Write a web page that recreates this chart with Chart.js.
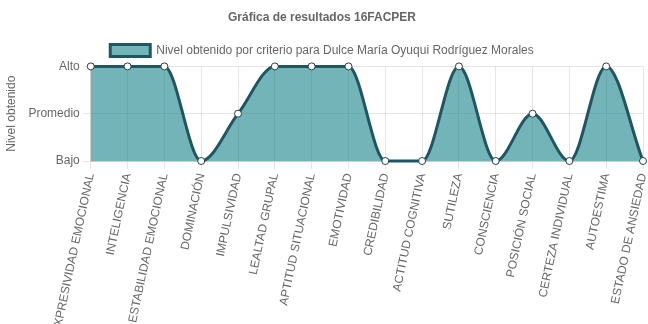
<!DOCTYPE html>
<html>
<head>
<meta charset="utf-8">
<script src="https://cdn.jsdelivr.net/npm/chart.js@4"></script>
<style>
  body { margin: 0; background: #fff; }
  #wrap { width: 648px; height: 324px; }
</style>
</head>
<body>
<div id="wrap"><canvas id="resultChart"></canvas></div>
<script>
// factores evaluados
const criterios = [
  'EXPRESIVIDAD EMOCIONAL', 'INTELIGENCIA', 'ESTABILIDAD EMOCIONAL', 'DOMINACIÓN',
  'IMPULSIVIDAD', 'LEALTAD GRUPAL', 'APTITUD SITUACIONAL', 'EMOTIVIDAD',
  'CREDIBILIDAD', 'ACTITUD COGNITIVA', 'SUTILEZA', 'CONSCIENCIA',
  'POSICIÓN SOCIAL', 'CERTEZA INDIVIDUAL', 'AUTOESTIMA', 'ESTADO DE ANSIEDAD'
];
// niveles del eje y, de abajo hacia arriba
const niveles = ['Bajo', 'Promedio', 'Alto'];
const resultados = [
  'Alto', 'Alto', 'Alto', 'Bajo',
  'Promedio', 'Alto', 'Alto', 'Alto',
  'Bajo', 'Bajo', 'Alto', 'Bajo',
  'Promedio', 'Bajo', 'Alto', 'Bajo'
];

const fuente = "'Liberation Sans', Arial, sans-serif";
Chart.defaults.font.family = fuente;
Chart.defaults.font.size = 12;
Chart.defaults.color = '#666';

new Chart(document.getElementById('resultChart'), {
  type: 'line',
  data: {
    labels: criterios,
    datasets: [{
      label: 'Nivel obtenido por criterio para Dulce María Oyuqui Rodríguez Morales',
      data: resultados.map(r => niveles.indexOf(r)),
      backgroundColor: 'rgba(22, 130, 138, 0.6)',
      borderColor: '#1f5662',
      borderWidth: 3,
      fill: 'origin',
      clip: false,
      cubicInterpolationMode: 'monotone',
      pointBackgroundColor: '#fff',
      pointBorderColor: '#1f3f45',
      pointBorderWidth: 1,
      pointRadius: 3.5
    }]
  },
  options: {
    responsive: true,
    maintainAspectRatio: false,
    animation: false,
    layout: { padding: { left: 0, right: 4, top: 0, bottom: 0 } },
    plugins: {
      title: {
        display: true,
        text: 'Gráfica de resultados 16FACPER',
        color: '#666',
        font: { size: 12, weight: 'bold' },
        padding: { top: 10, bottom: 10 }
      },
      legend: {
        labels: { boxWidth: 40, color: '#666' }
      },
      tooltip: { enabled: false }
    },
    scales: {
      x: {
        grid: { color: 'rgba(0,0,0,0.1)' },
        ticks: { color: '#666', autoSkip: false, maxRotation: 78, minRotation: 78 },
        afterFit: s => {
          s.height = 163;
          s.paddingRight = 4;
        }
      },
      y: {
        min: 0,
        max: 2,
        grid: { color: 'rgba(0,0,0,0.1)' },
        title: { display: true, text: 'Nivel obtenido', color: '#666' },
        ticks: {
          stepSize: 1,
          color: '#666',
          callback: v => niveles[v]
        },
        afterFit: s => { s.width += 3; }
      }
    }
  }
});
</script>
</body>
</html>
